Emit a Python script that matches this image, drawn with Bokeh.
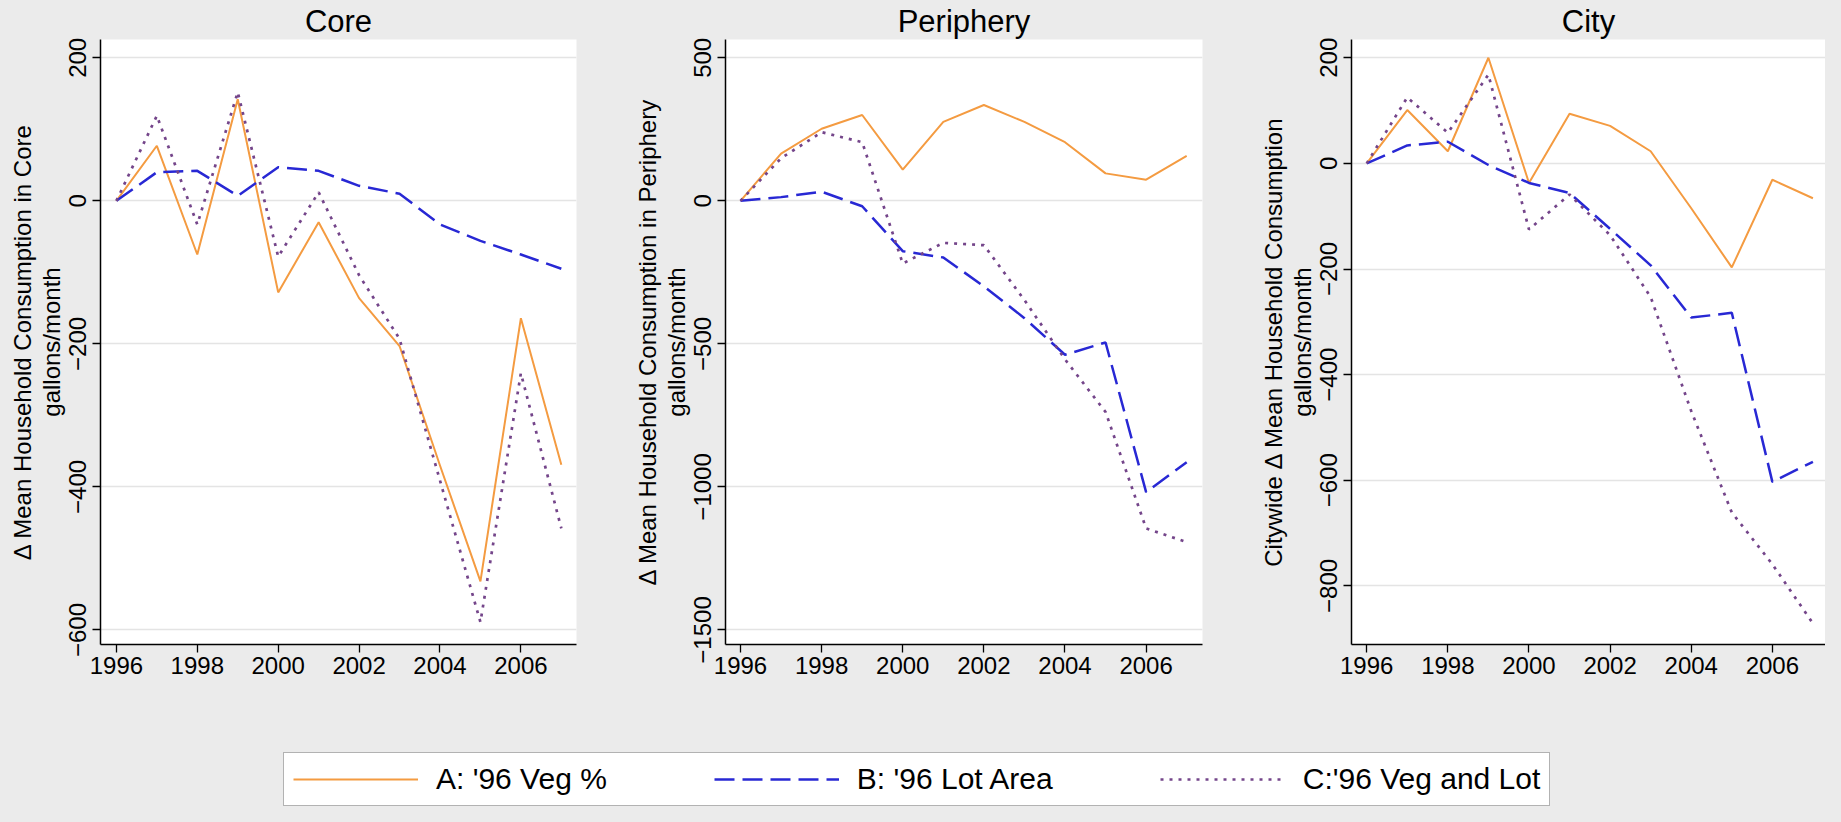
from bokeh.plotting import figure
from bokeh.models import Range1d, FixedTicker, Legend, LegendItem, GlobalInlineStyleSheet
from bokeh.layouts import row, column
from bokeh.embed import file_html
from bokeh.resources import INLINE

# ---------------- data ----------------
years = [1996, 1997, 1998, 1999, 2000, 2001, 2002, 2003, 2004, 2005, 2006, 2007]

core_a = [0, 77, -75, 142, -128, -30, -136, -203, -370, -532, -164, -369]
core_b = [0, 40, 42, 7, 47, 42, 21, 10, -33, -56, -75, -95]
core_c = [0, 119, -33, 152, -78, 12, -104, -193, -391, -589, -241, -458]

peri_a = [0, 165, 252, 300, 109, 276, 335, 276, 205, 96, 74, 157]
peri_b = [0, 13, 32, -19, -176, -198, -299, -410, -538, -495, -1018, -914]
peri_c = [0, 149, 240, 205, -219, -147, -155, -347, -554, -738, -1145, -1193]

city_a = [0, 101, 23, 200, -37, 94, 71, 23, -85, -197, -31, -66]
city_b = [0, 34, 41, -3, -37, -56, -124, -193, -292, -283, -603, -565]
city_c = [0, 125, 58, 168, -125, -59, -136, -253, -469, -661, -759, -871]

x_ticks = [1996, 1998, 2000, 2002, 2004, 2006]
core_yticks = [-600, -400, -200, 0, 200]
peri_yticks = [-1500, -1000, -500, 0, 500]
city_yticks = [-800, -600, -400, -200, 0, 200]

titles = ["Core", "Periphery", "City"]
ylabels = [
    "\u0394 Mean Household Consumption in Core\ngallons/month",
    "\u0394 Mean Household Consumption in Periphery\ngallons/month",
    "Citywide \u0394 Mean Household Consumption\ngallons/month",
]
legend_labels = ["A: '96 Veg %", "B: '96 Lot Area", "C:'96 Veg and Lot"]

# ---------------- style ----------------
FONT = "Liberation Sans"
BG = "#ebebeb"
ORANGE = "#f49b41"
BLUE = "#2828d4"
PURPLE = "#74458a"
GRID = "#e4e4e4"


def style_lines(p, a, b, c):
    ra = p.line(years, a, line_color=ORANGE, line_width=2)
    rb = p.line(years, b, line_color=BLUE, line_width=2.5, line_dash="20 8")
    rc = p.line(years, c, line_color=PURPLE, line_width=2.7, line_dash="3 6")
    return ra, rb, rc


def make_panel(title, ylabel, xr, yr, yticks, a, b, c, width, mbl, mbr):
    p = figure(width=width, height=692,
               x_range=Range1d(*xr), y_range=Range1d(*yr),
               output_backend="svg", toolbar_location=None,
               min_border_left=mbl, min_border_right=mbr,
               min_border_top=36, min_border_bottom=48,
               title=title)
    p.background_fill_color = "white"
    p.border_fill_color = BG
    p.outline_line_color = None
    p.title.align = "center"
    p.title.text_font = FONT
    p.title.text_font_size = "31px"
    p.title.text_font_style = "normal"
    p.title.text_color = "black"
    p.title.standoff = 2

    p.xaxis.ticker = FixedTicker(ticks=x_ticks)
    p.yaxis.ticker = FixedTicker(ticks=yticks)
    for ax in (p.xaxis, p.yaxis):
        ax.axis_line_color = "black"
        ax.axis_line_width = 1.5
        ax.major_tick_line_color = "black"
        ax.major_tick_line_width = 1.3
        ax.major_tick_out = 8
        ax.major_tick_in = 0
        ax.minor_tick_line_color = None
        ax.major_label_text_font = FONT
        ax.major_label_text_font_size = "24px"
        ax.major_label_text_color = "black"
    p.xaxis.major_label_standoff = 4
    p.yaxis.major_label_standoff = 6
    p.yaxis.major_label_orientation = "vertical"
    p.yaxis.axis_label = ylabel
    p.yaxis.axis_label_text_font = FONT
    p.yaxis.axis_label_text_font_size = "24px"
    p.yaxis.axis_label_text_font_style = "normal"
    p.yaxis.axis_label_text_color = "black"
    p.yaxis.axis_label_text_line_height = 1.05
    p.yaxis.axis_label_standoff = 2

    p.xgrid.visible = False
    p.ygrid.grid_line_color = GRID
    p.ygrid.grid_line_width = 1.5

    style_lines(p, a, b, c)
    return p


p1 = make_panel(titles[0], ylabels[0], (1995.607, 2007.375), (-620.3, 225.6),
                core_yticks, core_a, core_b, core_c, 612, 100, 36)
p2 = make_panel(titles[1], ylabels[1], (1995.63, 2007.39), (-1550.8, 564.0),
                peri_yticks, peri_a, peri_b, peri_c, 630, 113, 40)
p3 = make_panel(titles[2], ylabels[2], (1995.625, 2007.31), (-911.0, 234.6),
                city_yticks, city_a, city_b, city_c, 583, 109, 0)

# ---------------- legend strip ----------------
lf = figure(width=1825, height=114, x_range=Range1d(0, 1), y_range=Range1d(0, 1),
            output_backend="svg", toolbar_location=None,
            x_axis_location=None, y_axis_location=None, min_border=0)
lf.grid.visible = False
lf.outline_line_color = None
lf.background_fill_color = BG
lf.border_fill_color = BG
ra, rb, rc = style_lines(lf, core_a, core_b, core_c)
legend = Legend(items=[LegendItem(label=legend_labels[0], renderers=[ra]),
                       LegendItem(label=legend_labels[1], renderers=[rb]),
                       LegendItem(label=legend_labels[2], renderers=[rc])],
                orientation="horizontal", location=(283, 0),
                glyph_width=125, glyph_height=20, label_standoff=18,
                spacing=107, padding=9, margin=0,
                label_text_font=FONT, label_text_font_size="30px",
                label_text_color="black",
                background_fill_color="white", background_fill_alpha=1.0,
                border_line_color="#666666", border_line_width=1.5)
lf.add_layout(legend)

layout = column(row(p1, p2, p3), lf,
                stylesheets=[GlobalInlineStyleSheet(css="body { background-color: #ebebeb; }")])

open("out.html", "w").write(file_html(layout, INLINE))
